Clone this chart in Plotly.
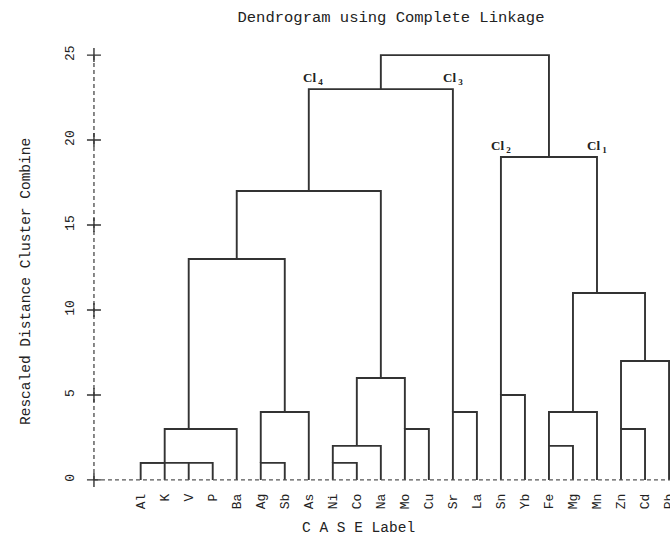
import plotly.graph_objects as go

# ---- data ----
leaves = ["Al", "K", "V", "P", "Ba", "Ag", "Sb", "As", "Ni", "Co", "Na", "Mo",
          "Cu", "Sr", "La", "Sn", "Yb", "Fe", "Mg", "Mn", "Zn", "Cd", "Pb"]
# merges: ids 0..22 are leaves, merge k creates cluster id 23+k
merge_left = [0, 2, 23, 25, 5, 27, 26, 8, 30, 11, 31, 29, 13, 34, 15, 17, 38, 20, 40, 39, 37, 36]
merge_right = [1, 3, 24, 4, 6, 7, 28, 9, 10, 12, 32, 33, 14, 35, 16, 18, 19, 21, 22, 41, 42, 43]
merge_height = [1, 1, 1, 3, 1, 4, 13, 1, 2, 3, 6, 17, 4, 23, 5, 2, 4, 3, 7, 11, 19, 25]
y_ticks = [0, 5, 10, 15, 20, 25]
cluster_labels = ["<b>Cl<sub> 4</sub></b>", "<b>Cl<sub> 3</sub></b>",
                  "<b>Cl<sub> 2</sub></b>", "<b>Cl<sub> 1</sub></b>"]
cluster_ids = [34, 35, 37, 42]

# ---- compute dendrogram geometry (SPSS style positions) ----
n = len(leaves)
pos = {i: i for i in range(n)}
hgt = {i: 0 for i in range(n)}
parent_h = {}
xs, ys = [], []
for k, (a, b, h) in enumerate(zip(merge_left, merge_right, merge_height)):
    cid = n + k
    xs += [pos[a], pos[a], pos[b], pos[b], None]
    ys += [hgt[a], h, h, hgt[b], None]
    pos[cid] = (pos[a] + pos[b]) // 2
    hgt[cid] = h
    parent_h[a] = h
    parent_h[b] = h

LINE = "#333333"
AXC = "#555555"
MONO = "Courier New, Liberation Mono, monospace"
x_min, x_max = -2.11, 22.04
axis_x = -1.945

W, H = 670, 537
ML, MT, MB = 90, 50, 52
PW = W - ML
PH = H - MT - MB

fig = go.Figure()
fig.add_trace(go.Scatter(x=xs, y=ys, mode="lines",
                         line=dict(color=LINE, width=1.9), hoverinfo="skip"))
# dashed axes
fig.add_trace(go.Scatter(x=[axis_x, x_max], y=[0, 0], mode="lines",
                         line=dict(color=AXC, width=1.4, dash="4px,3px"), hoverinfo="skip"))
fig.add_trace(go.Scatter(x=[axis_x, axis_x], y=[0, max(y_ticks)], mode="lines",
                         line=dict(color=AXC, width=1.4, dash="4px,3px"), hoverinfo="skip"))
fig.add_trace(go.Scatter(x=[axis_x] * len(y_ticks), y=y_ticks, mode="markers",
                         marker=dict(symbol="cross-thin", size=10,
                                     line=dict(color="#333333", width=1.4)),
                         cliponaxis=False, hoverinfo="skip"))

for lab, cid in zip(cluster_labels, cluster_ids):
    fig.add_annotation(x=pos[cid], y=parent_h[cid], text=lab, showarrow=False,
                       xanchor="center", yanchor="bottom", yshift=0,
                       xshift=4 if cid == 34 else 0,
                       font=dict(family="Liberation Serif, Times New Roman, serif",
                                 size=13, color="#222222"))

fig.add_annotation(xref="paper", yref="paper", x=(26 - ML) / PW, y=(MT + PH - 282) / PH,
                   text="Rescaled Distance Cluster Combine", textangle=-90,
                   showarrow=False, xanchor="center", yanchor="middle",
                   font=dict(family=MONO, size=14.5, color="#222222"))
fig.add_annotation(xref="paper", yref="paper", x=(358 - ML) / PW, y=(MT + PH - 528) / PH,
                   text="C A S E Label", showarrow=False, xanchor="center", yanchor="middle",
                   font=dict(family=MONO, size=14.5, color="#222222"))

fig.update_layout(
    width=W, height=H,
    margin=dict(l=ML, r=0, t=MT, b=MB, autoexpand=False),
    paper_bgcolor="white", plot_bgcolor="white",
    showlegend=False,
    title=dict(text="Dendrogram using Complete Linkage", x=391 / W, xanchor="center",
               y=1 - 17 / H, yanchor="middle", xref="container", yref="container",
               font=dict(family=MONO, size=15.5, color="#222222")),
)
fig.update_xaxes(range=[x_min, x_max], tickmode="array", tickvals=list(range(n)),
                 ticktext=leaves, tickangle=-90, showgrid=False, zeroline=False,
                 showline=False, ticks="", ticklabelstandoff=5, automargin=False,
                 ticklabeloverflow="allow",
                 tickfont=dict(family=MONO, size=13, color="#222222"))
fig.update_yaxes(range=[-0.3, 25.3], tickmode="array", tickvals=y_ticks,
                 tickangle=-90, showgrid=False, zeroline=False, showline=False,
                 ticks="", ticklabelstandoff=12, automargin=False,
                 tickfont=dict(family=MONO, size=13, color="#222222"))

fig.write_html("out.html", config={"displayModeBar": False},
               post_script="document.body.style.margin='0';document.body.style.overflow='hidden';")
